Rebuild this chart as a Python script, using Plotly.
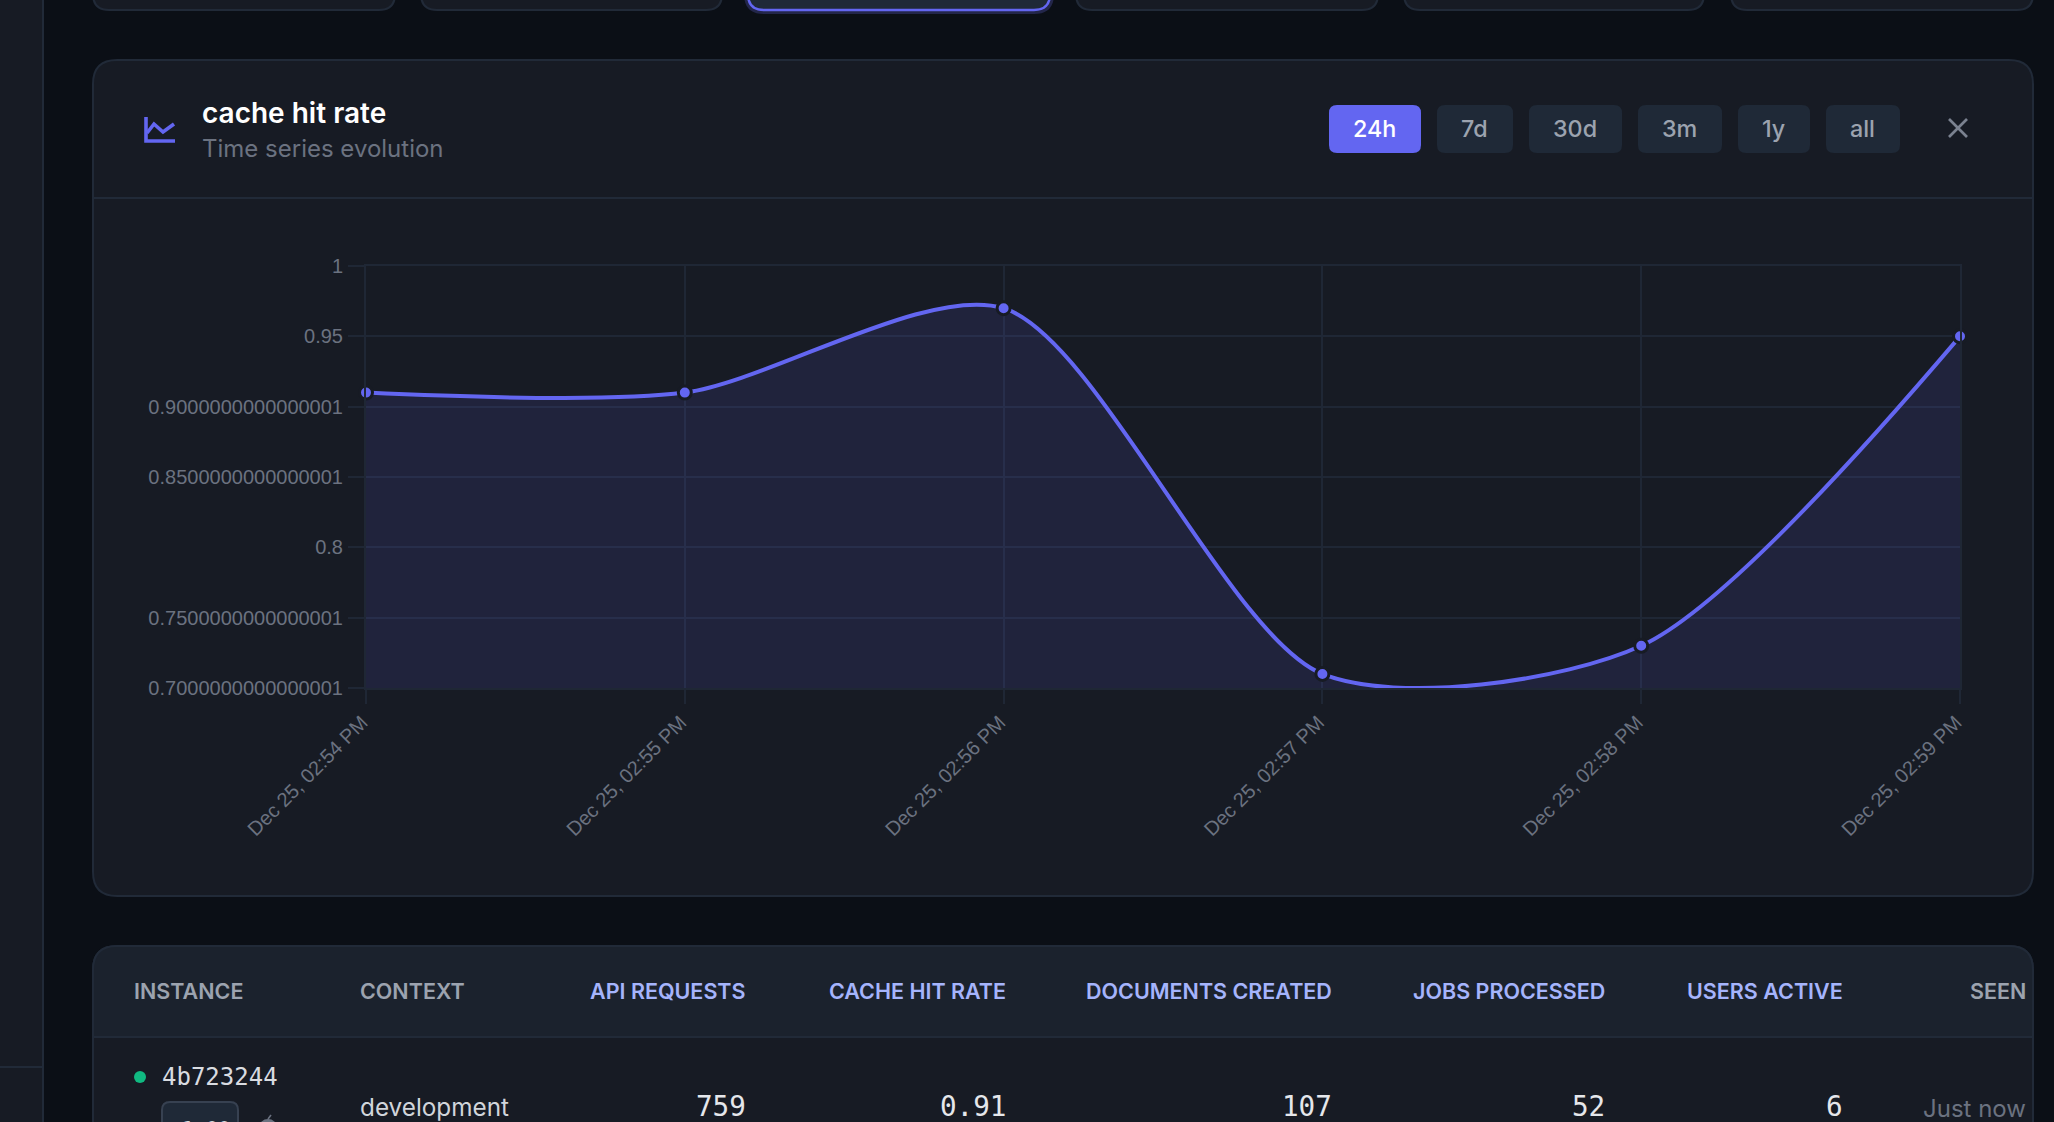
import plotly.graph_objects as go

W, H = 2054, 1122

# Series
timestamps = ["Dec 25, 02:54 PM", "Dec 25, 02:55 PM", "Dec 25, 02:56 PM",
              "Dec 25, 02:57 PM", "Dec 25, 02:58 PM", "Dec 25, 02:59 PM"]
cache_hit_rate = [0.91, 0.91, 0.97, 0.71, 0.73, 0.95]

# Value axis
y_ticks = [0.7, 0.75, 0.8, 0.85, 0.9, 0.95, 1.0]
y_tick_labels = ["0.7000000000000001", "0.7500000000000001", "0.8",
                 "0.8500000000000001", "0.9000000000000001", "0.95", "1"]

# Range selector
range_buttons = ["24h", "7d", "30d", "3m", "1y", "all"]
range_button_edges = [(1329, 1421), (1437, 1513), (1529, 1622),
                      (1638, 1722), (1738, 1810), (1826, 1900)]

# Summary table
table_headers = ["INSTANCE", "CONTEXT", "API REQUESTS", "CACHE HIT RATE",
                 "DOCUMENTS CREATED", "JOBS PROCESSED", "USERS ACTIVE", "SEEN"]
table_numbers = ["759", "0.91", "107", "52", "6"]

BG = "#0b0f16"
PANEL = "#171b24"
HEAD = "#1b222d"
BORDER = "#212a38"
CHIP = "#1f2937"
INDIGO = "#6366f1"
GRID = "#1f2735"
MUTED = "#6b7280"

def px(x):
    return x / W

def py(y):
    return 1 - y / H

def rrect(x0, y0, x1, y1, r, fill, line=BORDER, width=2):
    a, b, c, d = px(x0), px(x1), py(y0), py(y1)
    rx, ry = r / W, r / H
    path = (f"M{a+rx},{c} L{b-rx},{c} Q{b},{c} {b},{c-ry} L{b},{d+ry} Q{b},{d} {b-rx},{d} "
            f"L{a+rx},{d} Q{a},{d} {a},{d+ry} L{a},{c-ry} Q{a},{c} {a+rx},{c} Z")
    return dict(type="path", xref="paper", yref="paper", path=path, fillcolor=fill,
                line=dict(color=line, width=width), layer="below")

def rule(x0, y0, x1, y1, color=BORDER, width=2):
    return dict(type="line", xref="paper", yref="paper", x0=px(x0), y0=py(y0), x1=px(x1), y1=py(y1),
                line=dict(color=color, width=width), layer="below")

def label(text, x, y, size, color, anchor="left", family="Inter", weight=400):
    # Annotation boxes carry a little inner padding; cancel it so edges line up
    pad = {"left": -2.5, "right": 2.5, "center": 0}[anchor]
    return dict(text=text, xref="paper", yref="paper", x=px(x + pad), y=py(y), xanchor=anchor, yanchor="middle",
                showarrow=False, font=dict(family=family, size=size, color=color, weight=weight))

shapes = []
notes = []

# Sidebar edge
shapes.append(dict(type="rect", xref="paper", yref="paper", x0=0, x1=px(43), y0=0, y1=1,
                   fillcolor=PANEL, line=dict(width=0), layer="below"))
shapes.append(rule(43, 0, 43, H))
shapes.append(rule(0, 1067, 43, 1067))

# Metric cards running off the top edge
for i, (a, b) in enumerate([(93, 395), (421, 722), (748, 1050), (1076, 1378), (1404, 1704), (1731, 2033)]):
    if i == 2:
        shapes.append(rrect(a - 4, -30, b + 4, 14, 20, "#23264a", "#23264a", 0))
        shapes.append(rrect(a, -30, b, 10, 16, "#1f2937", INDIGO, 2.4))
    else:
        shapes.append(rrect(a, -30, b, 10, 16, PANEL, BORDER, 2))

# Chart panel
shapes.append(rrect(93, 60, 2033, 896, 24, PANEL))
shapes.append(rule(93, 198, 2033, 198))

# Header icon
shapes.append(dict(type="path", xref="paper", yref="paper", layer="below",
                   path=f"M{px(146)},{py(117)} L{px(146)},{py(141)} L{px(175)},{py(141)}",
                   line=dict(color=INDIGO, width=3.6)))
shapes.append(dict(type="path", xref="paper", yref="paper", layer="below",
                   path=f"M{px(147)},{py(133)} L{px(154)},{py(124)} L{px(163)},{py(132)} L{px(174)},{py(124)}",
                   line=dict(color=INDIGO, width=3.6)))
notes.append(label("cache hit rate", 202, 113, 28, "#ffffff", weight=600))
notes.append(label("Time series evolution", 202, 148.5, 24, MUTED))

# Range buttons
for i, (name, (a, b)) in enumerate(zip(range_buttons, range_button_edges)):
    shapes.append(rrect(a, 105, b, 153, 8, INDIGO if i == 0 else CHIP, INDIGO if i == 0 else CHIP, 0))
    notes.append(label(name, (a + b) / 2 - 1, 128.5, 23.3, "#ffffff" if i == 0 else "#9ca3af", "center", weight=500))

# Close icon
shapes.append(rule(1949, 119, 1967, 137, "#7b8290", 2.6))
shapes.append(rule(1967, 119, 1949, 137, "#7b8290", 2.6))

# Table
shapes.append(rrect(93, 946, 2033, 1160, 24, PANEL))
shapes.append(rrect(93, 946, 2033, 1060, 24, HEAD, HEAD, 0))
shapes.append(dict(type="rect", xref="paper", yref="paper", x0=px(93), x1=px(2033), y0=py(1122), y1=py(1037),
                   fillcolor=PANEL, line=dict(width=0), layer="below"))
shapes.append(rule(93, 1037, 2033, 1037))
shapes.append(rrect(93, 946, 2033, 1160, 24, "rgba(0,0,0,0)"))

header_pos = [(134, "left"), (360, "left"), (745, "right"), (1005, "right"),
              (1331, "right"), (1604, "right"), (1842, "right"), (2025, "right")]
for i, (t, (x, an)) in enumerate(zip(table_headers, header_pos)):
    metric = 2 <= i <= 6
    notes.append(label(t, x, 991, 21.5, "#a5b4fc" if metric else "#9ca3af", an, weight=600))

shapes.append(dict(type="circle", xref="paper", yref="paper", x0=px(134), x1=px(146), y0=py(1083), y1=py(1071),
                   fillcolor="#10b981", line=dict(width=0), layer="below"))
notes.append(label("4b723244", 162, 1077, 24, "#d9dce1", family="DejaVu Sans Mono"))
shapes.append(rrect(162, 1102, 238, 1150, 8, CHIP, "#374151", 2))
notes.append(label("v1.00", 200, 1128, 20, "#d1d5db", "center", family="DejaVu Sans Mono"))
shapes.append(rule(268, 1119, 271, 1115, "#6b7280", 1.6))
shapes.append(dict(type="circle", xref="paper", yref="paper", x0=px(259), x1=px(277), y0=py(1136), y1=py(1119),
                   fillcolor="#6b7280", line=dict(width=0), layer="below"))
notes.append(label("development", 360, 1107, 24.3, "#d1d5db"))
for val, x in zip(table_numbers, [745, 1005, 1331, 1604, 1842]):
    notes.append(label(val, x, 1106, 27.6, "#e5e7eb", "right", family="DejaVu Sans Mono"))
notes.append(label("Just now", 2025, 1108, 24, MUTED, "right"))

fig = go.Figure(go.Scatter(
    x=timestamps, y=cache_hit_rate, mode="lines+markers",
    line=dict(color=INDIGO, width=4, shape="spline", smoothing=0.78),
    marker=dict(color=INDIGO, size=13, line=dict(color=PANEL, width=3)),
    fill="tozeroy", fillcolor="rgba(99,95,241,0.12)", hoverinfo="skip", cliponaxis=False,
))

axis_font = dict(family="Liberation Sans", size=20, color=MUTED)
fig.update_layout(
    width=W, height=H, margin=dict(l=0, r=0, t=0, b=0, autoexpand=False),
    paper_bgcolor=BG, plot_bgcolor="rgba(0,0,0,0)", showlegend=False,
    shapes=shapes, annotations=notes,
    xaxis=dict(domain=[px(366), px(1960)], type="category", range=[0, 5], categoryorder="array",
               categoryarray=timestamps, tickangle=-45, tickfont=axis_font, ticks="outside",
               ticklen=14, tickcolor=GRID, tickwidth=2, gridcolor=GRID, gridwidth=2, showgrid=True,
               showline=True, linecolor=GRID, linewidth=2, mirror=True, zeroline=False, automargin=False,
               ticklabelshift=-4, ticklabelstandoff=-1),
    yaxis=dict(domain=[py(688), py(266)], range=[0.7, 1.0], tickmode="array", tickvals=y_ticks,
               ticktext=y_tick_labels, tickfont=axis_font, ticks="outside", ticklen=16, tickcolor=GRID,
               tickwidth=2, gridcolor=GRID, gridwidth=2, showline=True, linecolor=GRID, linewidth=2, mirror=True,
               zeroline=False, automargin=False, ticklabelstandoff=1),
)
fig.write_html("out.html")
